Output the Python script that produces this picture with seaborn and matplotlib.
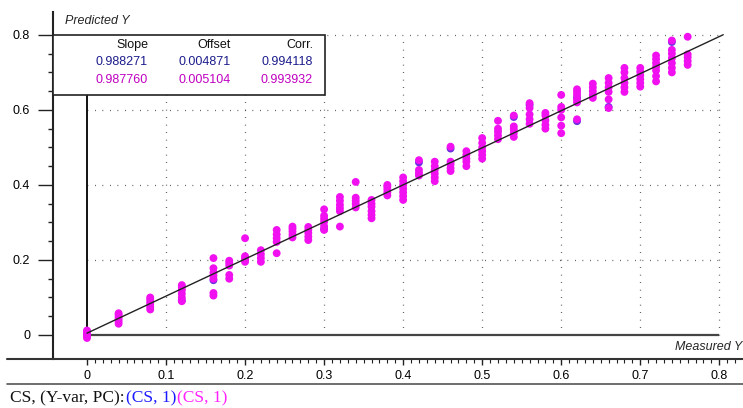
import numpy as np
import pandas as pd
import matplotlib
matplotlib.use("Agg")
import matplotlib.pyplot as plt
from matplotlib.lines import Line2D
from matplotlib.patches import Rectangle
from matplotlib.ticker import FixedLocator
import seaborn as sns

# ---------------- data ----------------
measured_levels = [0.00, 0.04, 0.08, 0.12, 0.16, 0.18, 0.20, 0.22, 0.24, 0.26,
                   0.28, 0.30, 0.32, 0.34, 0.36, 0.38, 0.40, 0.42, 0.44, 0.46,
                   0.48, 0.50, 0.52, 0.54, 0.56, 0.58, 0.60, 0.62, 0.64, 0.66,
                   0.68, 0.70, 0.72, 0.74, 0.76]

predicted_magenta = [
    [-0.008, -0.003, 0.000, 0.004, 0.008, 0.012],
    [0.030, 0.036, 0.042, 0.048, 0.054, 0.058],
    [0.068, 0.075, 0.082, 0.088, 0.095, 0.100],
    [0.090, 0.100, 0.110, 0.120, 0.128, 0.133],
    [0.105, 0.112, 0.150, 0.158, 0.166, 0.178, 0.205],
    [0.150, 0.160, 0.185, 0.192, 0.198],
    [0.195, 0.200, 0.205, 0.210, 0.258],
    [0.195, 0.205, 0.215, 0.226],
    [0.218, 0.248, 0.258, 0.268, 0.280],
    [0.260, 0.268, 0.276, 0.283, 0.289],
    [0.253, 0.262, 0.272, 0.280, 0.288],
    [0.280, 0.290, 0.302, 0.310, 0.318, 0.335],
    [0.289, 0.330, 0.338, 0.347, 0.358, 0.368],
    [0.340, 0.350, 0.358, 0.366, 0.408],
    [0.311, 0.320, 0.330, 0.342, 0.350, 0.360],
    [0.372, 0.380, 0.388, 0.395, 0.400],
    [0.360, 0.370, 0.380, 0.390, 0.400, 0.410, 0.420],
    [0.425, 0.432, 0.440, 0.466],
    [0.410, 0.420, 0.430, 0.440, 0.450, 0.462],
    [0.437, 0.445, 0.455, 0.462, 0.502],
    [0.450, 0.462, 0.470, 0.480, 0.490],
    [0.470, 0.480, 0.490, 0.500, 0.512, 0.525],
    [0.522, 0.532, 0.542, 0.550, 0.571],
    [0.528, 0.538, 0.548, 0.556, 0.585],
    [0.563, 0.575, 0.588, 0.605, 0.618],
    [0.550, 0.560, 0.572, 0.585, 0.592],
    [0.538, 0.558, 0.580, 0.600, 0.608, 0.640],
    [0.575, 0.620, 0.628, 0.640, 0.648, 0.655],
    [0.632, 0.640, 0.650, 0.660, 0.670],
    [0.605, 0.628, 0.648, 0.660, 0.672, 0.685],
    [0.648, 0.660, 0.672, 0.685, 0.700, 0.712],
    [0.662, 0.672, 0.682, 0.692, 0.702, 0.712],
    [0.676, 0.690, 0.705, 0.715, 0.725, 0.735, 0.745],
    [0.700, 0.712, 0.725, 0.738, 0.750, 0.760, 0.785],
    [0.720, 0.730, 0.740, 0.748, 0.795],
]

# visible points of the first (blue) series, mostly hidden beneath magenta
blue_measured = [0.00, 0.16, 0.30, 0.42, 0.46, 0.54, 0.56, 0.62, 0.62, 0.66, 0.74, 0.12]
blue_predicted = [0.002, 0.146, 0.282, 0.460, 0.497, 0.581, 0.613, 0.632, 0.570, 0.608, 0.781, 0.092]

legend_headers = ["Slope", "Offset", "Corr."]
stats_blue = ["0.988271", "0.004871", "0.994118"]
stats_magenta = ["0.987760", "0.005104", "0.993932"]
fit_slope = 0.988271
fit_offset = 0.004871

x_ticks = [0, 0.1, 0.2, 0.3, 0.4, 0.5, 0.6, 0.7, 0.8]
x_tick_labels = ["0", "0.1", "0.2", "0.3", "0.4", "0.5", "0.6", "0.7", "0.8"]
y_ticks = [0, 0.2, 0.4, 0.6, 0.8]
y_tick_labels = ["0", "0.2", "0.4", "0.6", "0.8"]

# ---------------- styling ----------------
sns.set_theme(style="white")
plt.rcParams["font.family"] = ["Liberation Sans", "DejaVu Sans"]

W, H = 743, 408
fig = plt.figure(figsize=(W / 100, H / 100), dpi=100)
fig.patch.set_facecolor("white")


def fx(px):
    return px / W


def fy(py):
    return 1 - py / H


ax = fig.add_axes([fx(53), fy(359), fx(743) - fx(53), fy(12) - fy(359)])
ax.set_facecolor("white")
ax.set_xlim(-0.043, 0.830)
ax.set_ylim(-0.064, 0.861)

rows = []
for xm, yp in zip(blue_measured, blue_predicted):
    rows.append({"Measured": xm, "Predicted": yp, "Series": "blue"})
for xm, ys in zip(measured_levels, predicted_magenta):
    for yp in ys:
        rows.append({"Measured": xm, "Predicted": yp, "Series": "magenta"})
df = pd.DataFrame(rows)

# grid (dotted)
dot = (0, (0.6, 5.4))
ax.hlines(y_ticks[1:], 0, 0.8, colors="#333333", linestyles=dot, linewidth=0.9, zorder=1)
ax.vlines(x_ticks[1:], 0, 0.8, colors="#333333", linestyles=dot, linewidth=0.9, zorder=1)

# inner solid axes at 0
ax.plot([0, 0.8], [0, 0], color="#444444", lw=1.6, zorder=2, solid_capstyle="butt")
ax.plot([0, 0], [0, 0.8], color="#111111", lw=1.4, zorder=2, solid_capstyle="butt")

sns.scatterplot(data=df, x="Measured", y="Predicted", hue="Series",
                palette={"blue": "#6a2ee0", "magenta": "#f010f0"},
                s=32, linewidth=0, legend=False, ax=ax, zorder=3)

# fit line
fx0, fx1 = 0.0, 0.805
ax.plot([fx0, fx1], [fit_offset + fit_slope * fx0, fit_offset + fit_slope * fx1],
        color="#222222", lw=1.0, zorder=4)

# spines & ticks
for s in ["top", "right", "bottom"]:
    ax.spines[s].set_visible(False)
ax.spines["left"].set_color("#222222")
ax.spines["left"].set_linewidth(1.5)

ax.xaxis.set_major_locator(FixedLocator(x_ticks))
ax.xaxis.set_minor_locator(FixedLocator(np.round(np.arange(0, 0.825, 0.01), 2)))
ax.set_xticklabels(x_tick_labels)
ax.yaxis.set_major_locator(FixedLocator(y_ticks))
ax.yaxis.set_minor_locator(FixedLocator(np.round(np.arange(0.05, 0.8, 0.05), 2)))
ax.set_yticklabels(y_tick_labels)
ax.tick_params(axis="x", which="major", direction="out", length=4.5, width=1.0,
               color="#222222", pad=3.5, labelsize=9, labelcolor="black", bottom=True)
ax.tick_params(axis="x", which="minor", direction="out", length=3.0, width=0.8,
               color="#222222", bottom=True)
ax.tick_params(axis="y", which="major", direction="out", length=11, width=1.0,
               color="#222222", pad=5.5, labelsize=9, labelcolor="black", left=True)
ax.tick_params(axis="y", which="minor", direction="out", length=3.6, width=1.0,
               color="#222222", left=True)
ax.set_xlabel("")
ax.set_ylabel("")

# outer horizontal lines
fig.add_artist(Line2D([fx(7), fx(743)], [fy(359), fy(359)], color="#333333", lw=1.5))
fig.add_artist(Line2D([fx(7), fx(743)], [fy(384), fy(384)], color="#555555", lw=1.2))

# axis titles
fig.text(fx(65), fy(21), "Predicted Y", fontsize=9, style="italic", ha="left", va="center")
fig.text(fx(742), fy(347), "Measured Y", fontsize=9, style="italic", ha="right", va="center")

# legend box with stats
fig.add_artist(Rectangle((fx(53), fy(95)), fx(325) - fx(53), fy(35) - fy(95),
                         facecolor="white", edgecolor="#222222", lw=1.2, zorder=10))
col_right = [148, 231, 313]
for cx, h, b, m in zip(col_right, legend_headers, stats_blue, stats_magenta):
    fig.text(fx(cx), fy(45), h, fontsize=9, ha="right", va="center", color="#111111", zorder=11)
    fig.text(fx(cx), fy(62), b, fontsize=9, ha="right", va="center", color="#1c1c8c", zorder=11)
    fig.text(fx(cx), fy(80), m, fontsize=9, ha="right", va="center", color="#c000c0", zorder=11)

# bottom caption in serif with coloured parts
serif = ["Liberation Serif", "DejaVu Serif"]
cap_size = 12.5
t1 = fig.text(fx(10), fy(398), "CS, (Y-var, PC):", fontsize=cap_size, family=serif,
              ha="left", va="center", color="#111111")
fig.canvas.draw()
r = fig.canvas.get_renderer()
bb = t1.get_window_extent(renderer=r)
t2 = fig.text(bb.x1 / fig.bbox.width + 0.002, fy(398), "(CS, 1)", fontsize=cap_size, family=serif,
              ha="left", va="center", color="#1a1aff")
bb2 = t2.get_window_extent(renderer=r)
fig.text(bb2.x1 / fig.bbox.width + 0.001, fy(398), "(CS, 1)", fontsize=cap_size, family=serif,
         ha="left", va="center", color="#ff22ff")

fig.savefig("out.png", dpi=100, facecolor="white")
